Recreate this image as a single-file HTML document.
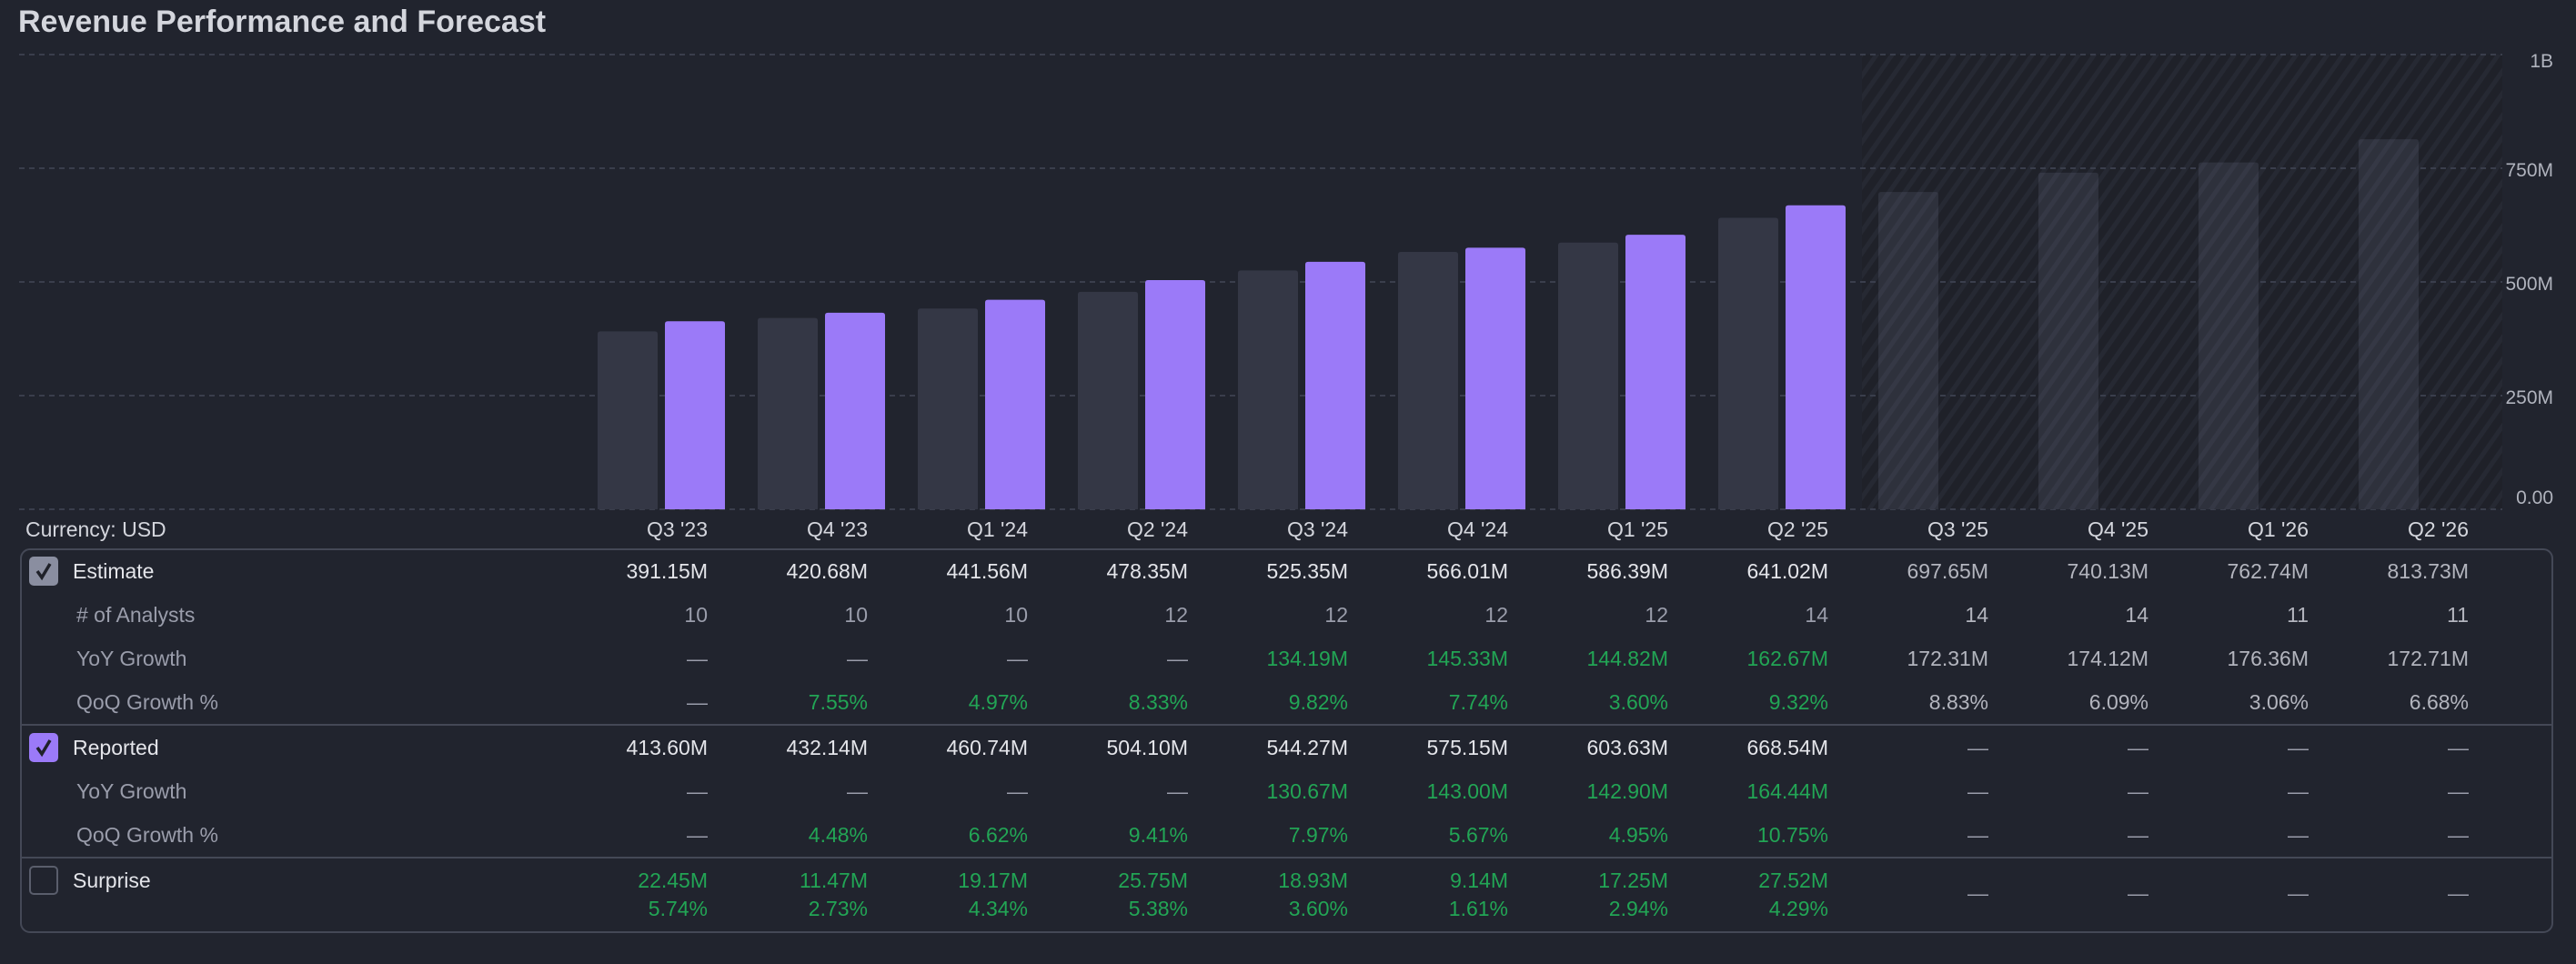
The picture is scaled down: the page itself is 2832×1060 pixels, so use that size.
<!DOCTYPE html>
<html><head><meta charset="utf-8"><style>
html,body{margin:0;padding:0;background:#21242e;}
svg{display:block;font-family:"Liberation Sans",sans-serif;}
</style></head><body>
<svg id="c" width="2832" height="1060" viewBox="0 0 2832 1060" xmlns="http://www.w3.org/2000/svg">
<defs>
<pattern id="hatch" width="14" height="14" patternUnits="userSpaceOnUse" patternTransform="rotate(35)">
<rect width="14" height="14" fill="#1f2129"/><rect width="5" height="14" fill="#262933"/>
</pattern>
<pattern id="hatch2" width="14" height="14" patternUnits="userSpaceOnUse" patternTransform="rotate(35)">
<rect width="14" height="14" fill="#2e313c"/><rect width="5" height="14" fill="#353845"/>
</pattern>
</defs>
<rect width="2832" height="1060" fill="#21242e"/>
<text x="20" y="35" font-size="34" font-weight="bold" fill="#d4d6dd">Revenue Performance and Forecast</text>
<g id="plot"></g>
<g id="table"></g>
</svg>
<script>
const categories=["Q3 '23","Q4 '23","Q1 '24","Q2 '24","Q3 '24","Q4 '24","Q1 '25","Q2 '25","Q3 '25","Q4 '25","Q1 '26","Q2 '26"];
const estimate=[391.15,420.68,441.56,478.35,525.35,566.01,586.39,641.02,697.65,740.13,762.74,813.73];
const reported=[413.60,432.14,460.74,504.10,544.27,575.15,603.63,668.54,null,null,null,null];
const analysts=["10","10","10","12","12","12","12","14","14","14","11","11"];
const estYoY=["—","—","—","—","134.19M","145.33M","144.82M","162.67M","172.31M","174.12M","176.36M","172.71M"];
const estQoQ=["—","7.55%","4.97%","8.33%","9.82%","7.74%","3.60%","9.32%","8.83%","6.09%","3.06%","6.68%"];
const repYoY=["—","—","—","—","130.67M","143.00M","142.90M","164.44M","—","—","—","—"];
const repQoQ=["—","4.48%","6.62%","9.41%","7.97%","5.67%","4.95%","10.75%","—","—","—","—"];
const surpAbs=["22.45M","11.47M","19.17M","25.75M","18.93M","9.14M","17.25M","27.52M","—","—","—","—"];
const surpPct=["5.74%","2.73%","4.34%","5.38%","3.60%","1.61%","2.94%","4.29%","","","",""];
const yTicks=[0,250,500,750,1000];
const yTickLabels=["0.00","250M","500M","750M","1B"];
const NS="http://www.w3.org/2000/svg";
const Y0=560,YT=60,VMAX=1000;
const y=v=>Y0-(v/VMAX)*(Y0-YT);
const colRight=i=>778+176*i;
const estX=i=>657+176*i;
const repX=i=>731+176*i;
const BW=66;
function mk(tag,attrs,parent,txt){const e=document.createElementNS(NS,tag);for(const k in attrs)e.setAttribute(k,attrs[k]);if(txt!==undefined)e.textContent=txt;parent.appendChild(e);return e;}
const plot=document.getElementById('plot');
const firstF=reported.findIndex(v=>v===null);
let h=mk('rect',{x:estX(firstF)-18,y:YT,width:2751-(estX(firstF)-18),height:Y0-YT,fill:'url(#hatch)'},plot);


yTicks.forEach((t,k)=>{
 let l=mk('line',{x1:21,x2:2751,y1:y(t),y2:y(t),stroke:'#3a3e4c','stroke-width':2,'stroke-dasharray':'6 5'},plot);
 
 
 let ly=Math.min(Math.max(y(t)+9,YT+14),Y0-6);
 let tx=mk('text',{x:2807,y:ly,'text-anchor':'end','font-size':21,fill:'#b0b3bd'},plot,yTickLabels[k]);
 
 
});
categories.forEach((c,i)=>{
 const fc=reported[i]===null;
 let b=mk('path',{d:barPath(estX(i),y(estimate[i]),BW,Y0-y(estimate[i])),fill:fc?'url(#hatch2)':'#343745'},plot);
 
 
 if(!fc){
  let r=mk('path',{d:barPath(repX(i),y(reported[i]),BW,Y0-y(reported[i])),fill:'#9b7af8'},plot);
  
  
 }
});
function barPath(x,t,w,hh){const r=3;return `M${x},${t+hh}V${t+r}Q${x},${t} ${x+r},${t}H${x+w-r}Q${x+w},${t} ${x+w},${t+r}V${t+hh}Z`;}
const tb=document.getElementById('table');
let cur=mk('text',{x:28,y:590,'font-size':23,fill:'#d4d6dd'},tb,'Currency: USD');


categories.forEach((c,i)=>{
 let t=mk('text',{x:colRight(i),y:590,'text-anchor':'end','font-size':23,fill:'#d4d6dd'},tb,c);
 
 
});
let box=mk('rect',{x:23,y:604,width:2783,height:421,rx:10,fill:'none',stroke:'#444856','stroke-width':2},tb);


[797,943].forEach(yy=>{let l=mk('line',{x1:23,x2:2806,y1:yy,y2:yy,stroke:'#444856','stroke-width':2},tb);
 
 });
function cb(yc,fill,stroke,check,name){
 let r=mk('rect',{x:33,y:yc-15,width:30,height:30,rx:4,fill:fill,stroke:stroke,'stroke-width':2},tb);
 
 
 if(check){mk('path',{d:`M41,${yc} L46,${yc+7} L55,${yc-8}`,stroke:'#1f2129','stroke-width':3.5,fill:'none'},tb);}
}
cb(628,'#8a8ea0','#8a8ea0',true,'estimate-checkbox');
cb(822,'#9b7af8','#9b7af8',true,'reported-checkbox');
cb(968,'none','#5a5e6c',false,'surprise-checkbox');
const green='#22a555',white='#e4e5ea',gray='#9a9dab',fgray='#b3b5be';
function row(label,yy,vals,main,name,colorFn){
 let l=mk('text',{x:main?80:84,y:yy+8,'font-size':23,fill:main?white:gray},tb,label);
 
 
 vals.forEach((v,i)=>{
  if(v==='')return;
  const fc=reported[i]===null;
  let col;
  if(v==='—')col=gray; else col=colorFn(i,fc);
  let t=mk('text',{x:colRight(i),y:yy+8,'text-anchor':'end','font-size':23,fill:col},tb,v);
  
  
 });
}
row('Estimate',628,estimate.map(v=>v.toFixed(2)+'M'),true,'estimate',(i,fc)=>fc?fgray:white);
row('# of Analysts',676,analysts,false,'analysts',(i,fc)=>fc?fgray:gray);
row('YoY Growth',724,estYoY,false,'estimate-yoy',(i,fc)=>fc?fgray:green);
row('QoQ Growth %',772,estQoQ,false,'estimate-qoq',(i,fc)=>fc?fgray:green);
row('Reported',822,reported.map(v=>v===null?'—':v.toFixed(2)+'M'),true,'reported',(i,fc)=>white);
row('YoY Growth',870,repYoY,false,'reported-yoy',()=>green);
row('QoQ Growth %',918,repQoQ,false,'reported-qoq',()=>green);
row('Surprise',968,surpAbs.map((v,i)=>v==='—'?'':v),true,'surprise',()=>green);
surpAbs.forEach((v,i)=>{if(v==='—'){let t=mk('text',{x:colRight(i),y:990,'text-anchor':'end','font-size':23,fill:gray},tb,'—');
 
 }});
surpPct.forEach((v,i)=>{if(!v)return;let t=mk('text',{x:colRight(i),y:1007,'text-anchor':'end','font-size':23,fill:green},tb,v);
 
 });
</script>
</body></html>
